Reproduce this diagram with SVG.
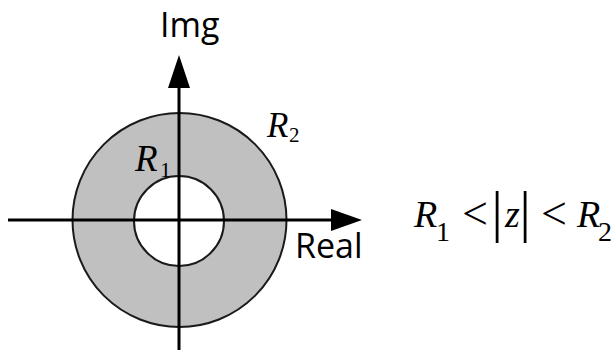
<svg xmlns="http://www.w3.org/2000/svg" width="613" height="358" viewBox="0 0 613 358">
<style>
.ring{fill:#c0c0c0;stroke:#1a1a1a;stroke-width:2}
.hole{fill:#ffffff;stroke:#1a1a1a;stroke-width:2}
.axis{stroke:#000;stroke-width:3;fill:none}
.head{fill:#000}
.lbl{font-family:"Open Sans","Noto Sans","DejaVu Sans",sans-serif;font-size:34px;fill:#000}
.math{font-family:"Liberation Serif","Times New Roman",serif;fill:#000}
.it{font-style:italic}
.up{font-style:normal}
</style>
<rect width="613" height="358" fill="#fff"/>
<g id="annulus">
<circle class="ring" cx="179.5" cy="220" r="107"/>
<circle class="hole" cx="179" cy="221" r="45"/>
</g>
<g id="connectors">
<line class="axis" x1="8" y1="220" x2="334" y2="220"/>
<polygon class="head" points="331,209 362,220 331,231"/>
<line class="axis" x1="179" y1="350" x2="179" y2="85"/>
<polygon class="head" points="168,88 179,55 190,88"/>
</g>
<g id="label-img"><text class="lbl" x="160" y="37">Img</text></g>
<g id="label-real"><text class="lbl" x="295" y="258">Real</text></g>
<g id="label-r2"><text class="math it" x="267" y="137" font-size="35">R<tspan class="up" x="289" y="142" font-size="21">2</tspan></text></g>
<g id="label-r1"><text class="math it" x="135" y="171" font-size="37">R<tspan class="up" x="160" y="177" font-size="22">1</tspan></text></g>
<g id="formula">
<text class="math it" x="414" y="227" font-size="38">R<tspan class="up" x="436" y="241" font-size="28">1</tspan></text>
<text class="math" x="462" y="229" font-size="46">&lt;</text>
<text class="math" x="491.4" y="231" font-size="56">|</text>
<text class="math it" x="505" y="227" font-size="38">z</text>
<text class="math" x="519.4" y="231" font-size="56">|</text>
<text class="math" x="541" y="229" font-size="46">&lt;</text>
<text class="math it" x="577" y="227" font-size="38">R<tspan class="up" x="598" y="241" font-size="28">2</tspan></text>
</g>
</svg>
